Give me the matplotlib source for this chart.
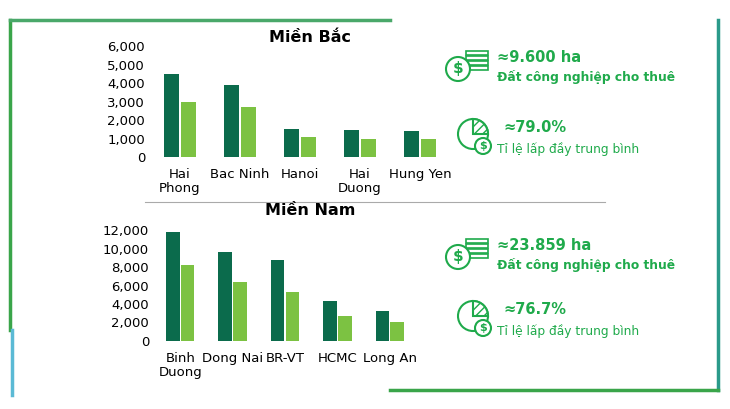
import matplotlib.pyplot as plt
from matplotlib.patches import Circle, Wedge

# 数据
north_labels = ["Hai\nPhong", "Bac Ninh", "Hanoi", "Hai\nDuong", "Hung Yen"]
north_dark = [4500, 3900, 1500, 1450, 1420]
north_light = [2950, 2700, 1100, 950, 1000]
south_labels = ["Binh\nDuong", "Dong Nai", "BR-VT", "HCMC", "Long An"]
south_dark = [11800, 9600, 8800, 4300, 3200]
south_light = [8200, 6400, 5300, 2700, 2100]

DARK = "#0b6b4c"
LIGHT = "#7cc242"
TXT = "#1faa4b"
W, H = 730, 409

fig = plt.figure(figsize=(7.3, 4.09), dpi=100)
fig.patch.set_facecolor("white")

def ax_px(x0, y0, x1, y1):
    return fig.add_axes([x0 / W, 1 - y1 / H, (x1 - x0) / W, (y1 - y0) / H])

def bars(ax, labels, dark, light, ymax, step):
    x = range(len(labels))
    ax.bar([i - 0.14 for i in x], dark, width=0.26, color=DARK)
    ax.bar([i + 0.14 for i in x], light, width=0.26, color=LIGHT)
    ax.set_ylim(0, ymax)
    ax.set_xlim(-0.5, len(labels) - 0.5)
    ax.set_yticks(range(0, ymax + 1, step))
    ax.set_yticklabels([f"{v:,}" for v in range(0, ymax + 1, step)])
    ax.set_xticks(list(x))
    ax.set_xticklabels(labels, va="top", linespacing=1.1)
    for s in ax.spines.values():
        s.set_visible(False)
    ax.tick_params(length=0, labelsize=9.5)
    ax.tick_params(axis="x", pad=8)

ax1 = ax_px(150, 46, 450, 157)
bars(ax1, north_labels, north_dark, north_light, 6000, 1000)
fig.text(310 / W, 1 - 42 / H, "Miền Bắc", ha="center", fontsize=11.5, fontweight="bold")

ax2 = ax_px(154, 230, 416, 341)
bars(ax2, south_labels, south_dark, south_light, 12000, 2000)
fig.text(310 / W, 1 - 215 / H, "Miền Nam", ha="center", fontsize=11.5, fontweight="bold")

# 分隔线
fig.add_artist(plt.Line2D([145 / W, 605 / W], [1 - 202 / H] * 2, color="#aaaaaa", lw=0.8))

# 边框
frame = [((10, 10), (330, 20)), ((10, 390), (20, 20)), ((718, 718), (20, 390)),
         ((390, 718), (390, 390)), ((12, 12), (330, 395))]
cols = ["#3aa54a", "#4aa86a", "#2a9a8a", "#3aa54a", "#5bbad5"]
for (xs, ys), c in zip(frame, cols):
    fig.add_artist(plt.Line2D([v / W for v in xs], [1 - v / H for v in ys], color=c, lw=2.5))

# 信息块
def coin_icon(cx, cy):
    a = ax_px(cx - 30, cy - 20, cx + 30, cy + 20)
    a.set_xlim(-30, 30); a.set_ylim(-20, 20); a.axis("off"); a.set_aspect("equal")
    for k in range(4):
        a.add_patch(plt.Rectangle((-4, 10 - k * 5), 22, 4, fc="white", ec=TXT, lw=1.2))
    a.add_patch(Circle((-12, -4), 12, fc="white", ec=TXT, lw=1.5))
    a.text(-12, -4, "$", color=TXT, ha="center", va="center", fontsize=11, fontweight="bold")

def pie_icon(cx, cy):
    a = ax_px(cx - 25, cy - 22, cx + 25, cy + 22)
    a.set_xlim(-25, 25); a.set_ylim(-22, 22); a.axis("off"); a.set_aspect("equal")
    a.add_patch(Circle((-2, 4), 15, fc="white", ec=TXT, lw=1.5))
    a.add_patch(Wedge((-2, 4), 15, 0, 90, fc="white", ec=TXT, lw=1.5, hatch="////"))
    a.add_patch(Circle((8, -8), 8, fc="white", ec=TXT, lw=1.5))
    a.text(8, -8, "$", color=TXT, ha="center", va="center", fontsize=8, fontweight="bold")

blocks = [(62, 138, "≈9.600 ha", "≈79.0%"), (250, 320, "≈23.859 ha", "≈76.7%")]
for y_top, y_pie, area, occ in blocks:
    coin_icon(470, y_top + 3)
    fig.text(497 / W, 1 - (y_top - 4) / H, area, color=TXT, fontsize=10.5, fontweight="bold", va="center")
    fig.text(497 / W, 1 - (y_top + 15) / H, "Đất công nghiệp cho thuê", color=TXT,
             fontsize=8.8, fontweight="bold", va="center")
    pie_icon(475, y_pie)
    fig.text(503 / W, 1 - (y_pie - 10) / H, occ, color=TXT, fontsize=10.5, fontweight="bold", va="center")
    fig.text(497 / W, 1 - (y_pie + 11) / H, "Tỉ lệ lấp đầy trung bình", color=TXT,
             fontsize=8.8, va="center")

fig.savefig("out.png", dpi=100)
